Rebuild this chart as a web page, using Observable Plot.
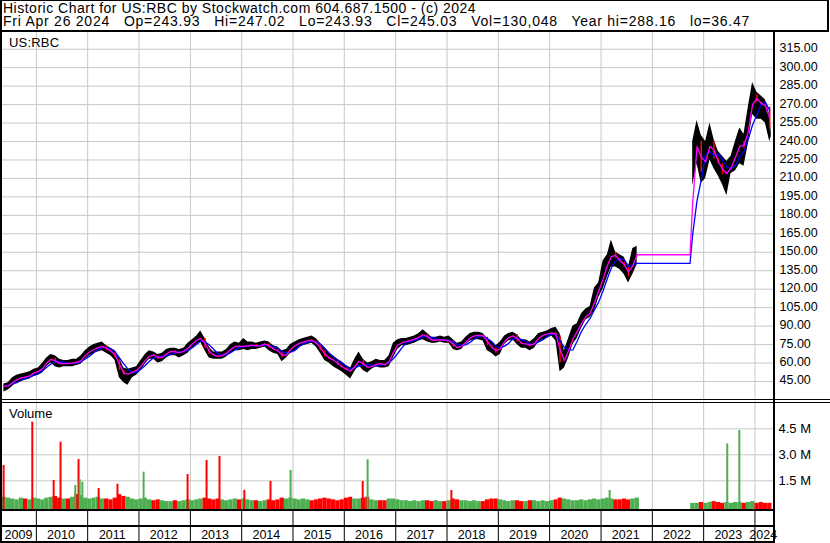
<!DOCTYPE html>
<html>
<head>
<meta charset="utf-8">
<script src="https://cdn.jsdelivr.net/npm/d3@7"></script>
<script src="https://cdn.jsdelivr.net/npm/@observablehq/plot@0.6"></script>
<style>
  body { margin: 0; background: #fff; }
  #chart { position: relative; width: 830px; height: 543px; background: #fff; overflow: hidden;
           font-family: "Liberation Sans", Arial, sans-serif; color: #000; }
  .txt { position: absolute; white-space: pre; }
  .ln { position: absolute; background: #000; }
  #chart svg { position: absolute; left: 0; }
</style>
</head>
<body>
<div id="chart"></div>
<script>
// ---------------- DATA ----------------
const titleText = "Historic Chart for US:RBC by Stockwatch.com 604.687.1500 - (c) 2024";
const quoteText = "Fri Apr 26 2024   Op=243.93   Hi=247.02   Lo=243.93   Cl=245.03   Vol=130,048   Year hi=288.16   lo=36.47";
const symbolText = "US:RBC";
const volumeTitle = "Volume";

// monthly price ranges, segment 1: May 2009 .. Sep 2021
const seg1Start = "2009-05-01";
const seg1High = [
  43,44,48,50,51,52,53,55,
  56,60,64,67,66,63,62,62,63,63,66,70,
  73,75,76,77,74,72,70,64,56,55,56,57,
  62,67,70,69,67,68,71,72,72,71,72,76,
  79,82,86,80,73,69,69,69,71,75,77,76,
  80,77,77,76,77,78,77,74,73,70,71,75,
  77,79,80,81,82,80,76,72,68,66,63,61,
  58,56,63,69,63,60,61,63,62,62,66,76,
  79,80,80,81,82,84,87,84,81,81,82,81,
  82,79,76,77,81,84,85,85,84,80,77,74,
  77,82,84,85,83,79,79,77,80,84,85,86,
  88,89,84,70,80,90,92,100,104,106,121,125,
  143,148,160,150,148,146,138,153,155];
const seg1Low = [
  36.5,38,41,44,45,46,47,49,
  50,52,57,60,57,56,57,57,57,58,59,63,
  66,68,69,70,68,66,62,48,44,42,48,50,
  54,59,63,63,60,61,64,66,66,64,66,68,
  72,75,77,70,64,63,63,63,65,68,70,70,
  71,70,71,71,72,73,70,68,67,61,64,68,
  70,73,74,75,76,73,68,62,60,57,55,53,
  50,47,53,58,54,52,55,57,56,56,57,64,
  71,74,74,75,76,78,79,77,76,76,77,76,
  76,71,70,71,75,78,79,79,78,70,68,65,
  67,75,78,79,75,72,72,70,72,77,79,80,
  82,78,53,56,64,75,80,88,95,97,102,113,
  120,130,138,138,136,132,125,132,140];
const seg1Close = [
  41,42,46,47,49,48,51,53,
  53,58,62,64,60,59,60,59,61,60,64,68,
  70,72,73,74,70,69,64,54,50,52,53,55,
  60,64,67,66,63,66,69,70,68,69,70,74,
  77,80,80,72,67,66,65,67,69,73,74,73,
  74,74,75,73,75,76,72,71,69,64,69,73,
  75,77,77,79,78,75,70,65,63,62,58,56,
  54,53,61,62,57,56,58,60,59,58,64,73,
  76,77,78,79,80,82,84,79,78,79,79,78,
  78,73,72,75,79,82,82,83,81,74,72,68,
  75,80,81,83,77,75,76,73,78,82,83,84,
  85,82,60,64,76,83,88,96,99,102,116,121,
  135,143,150,145,142,138,130,148,148];
// daily volume level per month, millions
const seg1Vol = [
  0.55,0.5,0.45,0.4,0.5,0.45,0.4,0.5,
  0.45,0.4,0.5,0.55,0.6,0.5,0.45,0.45,0.55,0.7,0.65,0.5,
  0.45,0.5,0.55,0.45,0.45,0.4,0.5,0.7,0.6,0.55,0.45,0.4,
  0.45,0.5,0.4,0.35,0.4,0.35,0.3,0.3,0.35,0.3,0.35,0.4,
  0.35,0.4,0.45,0.5,0.45,0.4,0.45,0.4,0.35,0.4,0.45,0.4,
  0.45,0.4,0.35,0.35,0.3,0.35,0.4,0.35,0.4,0.5,0.45,0.5,
  0.45,0.4,0.45,0.4,0.35,0.4,0.45,0.5,0.45,0.4,0.35,0.4,
  0.5,0.55,0.45,0.45,0.5,0.55,0.4,0.35,0.35,0.35,0.45,0.45,
  0.4,0.35,0.35,0.3,0.35,0.3,0.35,0.35,0.3,0.35,0.3,0.3,
  0.35,0.45,0.4,0.35,0.35,0.3,0.35,0.3,0.3,0.4,0.45,0.45,
  0.4,0.35,0.3,0.35,0.35,0.3,0.3,0.35,0.35,0.3,0.35,0.3,
  0.35,0.4,0.5,0.45,0.4,0.35,0.35,0.4,0.35,0.4,0.45,0.4,
  0.45,0.5,0.45,0.4,0.4,0.45,0.4,0.45,0.5];

// segment 2: Oct 2022 .. Apr 2024 (first trading day after the gap)
const gapEnd = "2022-09-26";
const seg2Start = "2022-10-01";
const seg2High  = [240,257,245,240,255,242,232,228,224,228,240,251,246,268,288,280,277,274,262];
const seg2Low   = [204,222,206,210,225,218,212,205,196,214,216,222,220,238,262,258,258,255,240];
const seg2Close = [232,240,215,232,240,226,222,213,215,222,232,240,234,262,278,272,270,268,250];
const seg2Vol   = [0.2,0.2,0.25,0.2,0.25,0.3,0.25,0.2,0.25,0.2,0.25,0.25,0.2,0.25,0.3,0.2,0.25,0.2,0.2];

// last session from the header
const lastDate = "2024-04-26", lastOpen = 243.93, lastHigh = 247.02, lastLow = 243.93, lastClose = 245.03;

// volume spikes (single sessions)
const spikeDates  = ["2009-05-13","2009-12-03","2010-05-04","2010-06-22","2010-10-05","2010-10-28","2010-11-05","2010-11-24",
                     "2011-03-20","2011-08-01","2012-02-03","2012-12-12","2013-04-26","2013-07-27","2014-01-20","2014-07-25",
                     "2014-12-15","2016-05-11","2016-06-15","2018-02-01","2021-03-03","2023-06-18","2023-09-12"];
const spikeVolume = [2.38,4.88,1.52,3.73,1.23,2.73,1.57,1.42,
                     1.05,1.3,2.0,1.86,2.67,2.9,0.95,1.46,
                     2.1,1.46,2.71,0.94,0.94,3.63,4.4];
const spikeUp     = [0,0,0,0,1,0,1,1, 0,0,1,0,0,0,0,0, 1,0,1,0,1,1,1];

// axes
const priceTicks = [45,60,75,90,105,120,135,150,165,180,195,210,225,240,255,270,285,300,315];
const volTicks = [1.5, 3.0, 4.5];
const volTickLabels = ["1.5 M", "3.0 M", "4.5 M"];
const yearLabels = ["2009","2010","2011","2012","2013","2014","2015","2016","2017","2018","2019","2020","2021","2022","2023","2024"];
const xDomainText = ["2009-05-05", "2024-05-12"];
const priceDomain = [29.56, 329.4];
const volDomain = [-0.156, 6.075];

// ---------------- BUILD ----------------
const parse = d3.utcParse("%Y-%m-%d");
const xDomain = xDomainText.map(parse);
const gridColor = "#c8c8c8";
const green = "#4caf50", red = "#ff0000";

function buildSeg(start, highs, lows, closes, vols, seg) {
  const m0 = parse(start);
  return highs.map((h, i) => {
    const ms = d3.utcMonth.offset(m0, i);
    return {seg, start: ms, end: d3.utcMonth.offset(ms, 1), date: d3.utcDay.offset(ms, 14),
            high: h, low: lows[i], close: closes[i], vol: vols[i]};
  });
}
const s1 = buildSeg(seg1Start, seg1High, seg1Low, seg1Close, seg1Vol, 1);
const s2 = buildSeg(seg2Start, seg2High, seg2Low, seg2Close, seg2Vol, 2);
const all = s1.concat(s2);
all.forEach((d, i) => { d.open = i ? all[i - 1].close : d.close; d.up = d.close >= d.open; });

const band = all.map(d => ({seg: d.seg, date: d.date, low: d.low, high: d.high}));
band.push({seg: 2, date: parse(lastDate), low: lastLow, high: lastHigh});

const closes = all.map(d => d.close);
function maLine(k) {
  const m = closes.map((_, i) => d3.mean(closes.slice(Math.max(0, i - k + 1), i + 1)));
  const pts = all.map((d, i) => ({date: d.date, v: m[i]}));
  const iGap = s1.length;
  pts.splice(iGap, 0, {date: parse(gapEnd), v: m[iGap - 1]});
  return pts;
}
const maFast = maLine(2);
const maSlow = maLine(4);

const spikes = spikeDates.map((d, i) => ({date: parse(d), vol: spikeVolume[i], up: !!spikeUp[i]}));
const yearStarts = yearLabels.slice(1).map(y => parse(`${y}-01-01`));
const yearCells = yearLabels.map(y => {
  const a = Math.max(+parse(`${y}-01-01`), +xDomain[0]);
  const b = Math.min(+parse(`${+y + 1}-01-01`), +xDomain[1]);
  return {mid: new Date((a + b) / 2), label: y};
});

const font = "'Liberation Sans', Arial, sans-serif";
const common = {width: 830, marginLeft: 2, marginRight: 57, marginTop: 0, marginBottom: 0};

const pricePlot = Plot.plot({
  ...common, height: 369,
  style: {fontFamily: font, fontSize: "12.5px", background: "transparent", overflow: "visible"},
  x: {type: "utc", domain: xDomain, axis: null},
  y: {domain: priceDomain, axis: null},
  marks: [
    Plot.ruleX(yearStarts, {stroke: gridColor}),
    Plot.ruleY(priceTicks, {stroke: gridColor}),
    Plot.areaY(band, {x: "date", y1: "low", y2: "high", z: "seg", fill: "#000", clip: true}),
    Plot.ruleX(all.filter(d => !d.up), {x: "date", y1: "open", y2: "close", stroke: red, strokeWidth: 1.5}),
    Plot.line(maSlow, {x: "date", y: "v", stroke: "#0000ff", strokeWidth: 1.3}),
    Plot.line(maFast, {x: "date", y: "v", stroke: "#ff00ff", strokeWidth: 1.3}),
    Plot.axisY(priceTicks, {anchor: "right", tickSize: 0, tickPadding: 6, dy: -1,
      tickFormat: d3.format(".2f"), label: null, fill: "#000"})
  ]
});
pricePlot.style.top = "31px";

const volPlot = Plot.plot({
  ...common, height: 108,
  style: {fontFamily: font, fontSize: "13px", background: "transparent", overflow: "visible"},
  x: {type: "utc", domain: xDomain, axis: null},
  y: {domain: volDomain, axis: null},
  color: {type: "identity"},
  marks: [
    Plot.ruleX(yearStarts, {stroke: gridColor}),
    Plot.ruleY(volTicks, {stroke: gridColor}),
    Plot.rect(all, {x1: "start", x2: "end", y1: volDomain[0], y2: "vol", fill: d => d.up ? green : red, clip: true}),
    Plot.ruleX(spikes, {x: "date", y1: volDomain[0], y2: "vol", stroke: d => d.up ? green : red, strokeWidth: 2}),
    Plot.axisY(volTicks, {anchor: "right", tickSize: 0, tickPadding: 5,
      tickFormat: d => volTickLabels[volTicks.indexOf(d)], label: null, fill: "#000"})
  ]
});
volPlot.style.top = "401px";

const datePlot = Plot.plot({
  ...common, height: 30,
  style: {fontFamily: font, fontSize: "12.5px", background: "transparent", overflow: "visible"},
  x: {type: "utc", domain: xDomain, axis: null},
  marks: [
    Plot.ruleX(yearStarts, {stroke: "#000"}),
    Plot.text(yearCells, {x: "mid", text: "label", frameAnchor: "top", lineAnchor: "middle", dy: 23, dx: -1, fill: "#000"})
  ]
});
datePlot.style.top = "511px";

const chart = document.getElementById("chart");
chart.append(pricePlot, volPlot, datePlot);

function addText(t, left, top, size, spacing, lh) {
  const el = document.createElement("div");
  el.className = "txt";
  el.textContent = t;
  Object.assign(el.style, {left: left + "px", top: top + "px", fontSize: size + "px",
    lineHeight: (lh || 13) + "px", letterSpacing: (spacing || 0) + "px"});
  chart.append(el);
}
addText(titleText, 3, 2, 14, 0.5, 12);
addText(quoteText, 3, 15, 14, 0.75, 12);
addText(symbolText, 9, 35.5, 13, 0.2);
addText(volumeTitle, 9, 406.5, 13, 0);

function addLine(left, top, w, h) {
  const el = document.createElement("div");
  el.className = "ln";
  Object.assign(el.style, {left: left + "px", top: top + "px", width: w + "px", height: h + "px"});
  chart.append(el);
}
addLine(0, 0, 829, 1);      // top
addLine(0, 0, 2, 543);      // left
addLine(827, 0, 2, 31);     // header right
addLine(0, 30, 829, 2);     // header bottom
addLine(773, 31, 2, 512);   // plot right
addLine(0, 399, 830, 1);    // price / volume double line
addLine(0, 402, 830, 1);
addLine(0, 509, 775, 2);    // volume bottom
addLine(0, 525, 775, 2);    // date rows separator
addLine(0, 541, 775, 2);    // bottom
</script>
</body>
</html>
